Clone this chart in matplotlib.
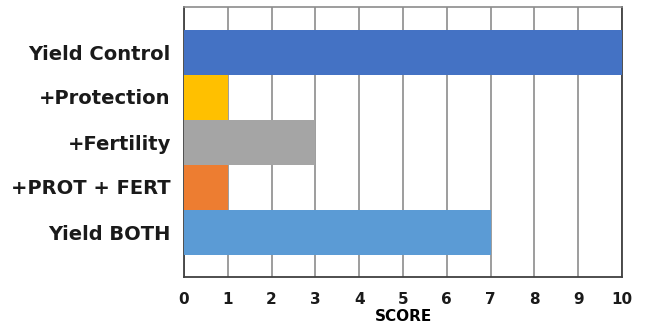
import matplotlib.pyplot as plt

categories = ['Yield Control', '+Protection', '+Fertility', '+PROT + FERT', 'Yield BOTH']
scores = [10, 1, 3, 1, 7]
colors = ['#4472C4', '#FFC000', '#A5A5A5', '#ED7D31', '#5B9BD5']
xticks = list(range(0, 11))

plt.rcParams['font.family'] = ['DejaVu Sans']
plt.rcParams['text.color'] = '#1a1a1a'

fig = plt.figure(figsize=(6.47, 3.28), dpi=100)
ax = fig.add_axes([184 / 647, 1 - 277 / 328, (622 - 184) / 647, (277 - 7) / 328])

ypos = list(range(len(categories)))[::-1]
ax.barh(ypos, scores, height=1.0, color=colors, zorder=3)

ax.set_xlim(0, 10)
ax.set_ylim(-1, len(categories))
ax.set_xticks(xticks)
ax.set_yticks(ypos)
ax.set_yticklabels(categories, fontsize=14, fontweight='bold', color='#1a1a1a')
for lbl in ax.get_xticklabels():
    lbl.set_fontsize(11)
    lbl.set_fontweight('bold')
    lbl.set_color('#1a1a1a')
ax.tick_params(axis='both', length=0)
ax.tick_params(axis='y', pad=9.5)
ax.tick_params(axis='x', pad=11)
ax.grid(axis='x', color='#8c8c8c', linewidth=1.2, zorder=1)

for side in ['left', 'bottom', 'right']:
    ax.spines[side].set_color('#404040')
    ax.spines[side].set_linewidth(1.3)
ax.spines['top'].set_color('#8c8c8c')
ax.spines['top'].set_linewidth(1.2)

ax.set_xlabel('SCORE', fontsize=11, fontweight='bold', labelpad=1)

fig.savefig('out.png', dpi=100)
